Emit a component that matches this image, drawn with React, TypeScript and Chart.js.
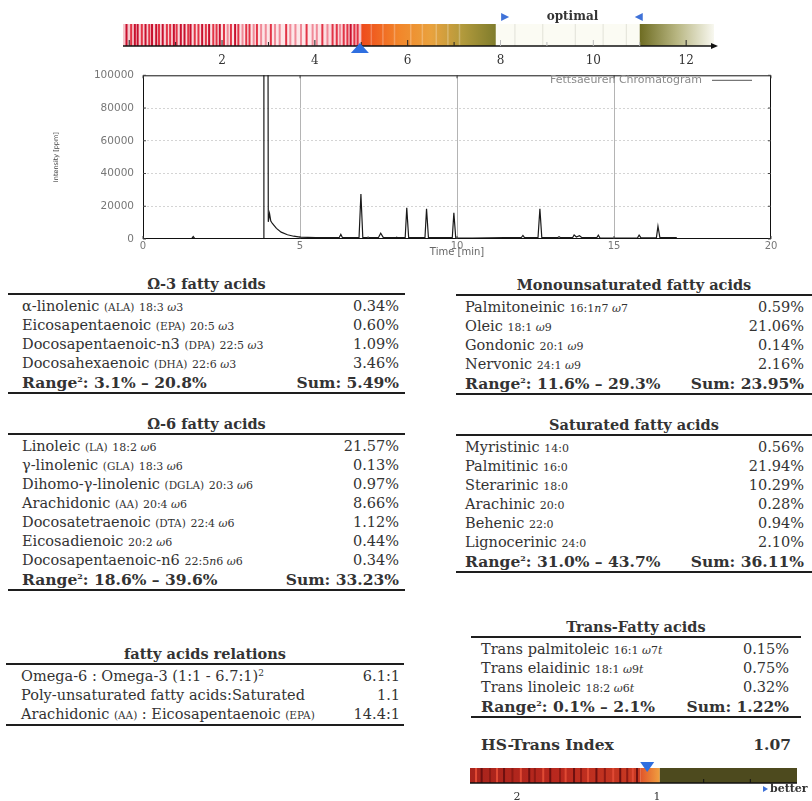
import React, { useEffect, useRef } from "react";
import { Chart, registerables } from "chart.js";
Chart.register(...registerables);

// ---------------- data ----------------
// Chromatogram trace (time in min, intensity in ppm)
const chromTime = [0, 1.55, 1.6, 1.65, 3.83, 3.85, 3.97, 3.99, 4.03, 4.07, 4.12, 4.25, 4.4, 4.6, 4.8, 5.0, 5.5, 6.0, 6.25, 6.3, 6.35, 6.88, 6.94, 7.0, 7.12, 7.17, 7.22, 7.5, 7.57, 7.65, 8.05, 8.08, 8.11, 8.35, 8.4, 8.46, 8.98, 9.03, 9.09, 9.85, 9.9, 9.96, 10.5, 11.5, 12.05, 12.1, 12.15, 12.58, 12.64, 12.7, 13.2, 13.25, 13.3, 13.68, 13.73, 13.8, 13.9, 13.98, 14.45, 14.5, 14.55, 15.0, 15.75, 15.8, 15.86, 16.35, 16.4, 16.46, 17.0];
const chromIntensity = [300, 300, 1500, 300, 300, 250000, 250000, 10500, 15500, 11000, 9500, 6500, 4200, 2600, 1700, 1200, 900, 800, 900, 2800, 900, 800, 27500, 900, 800, 1200, 800, 900, 3500, 1000, 800, 1100, 800, 800, 19000, 900, 800, 18500, 900, 800, 16000, 700, 600, 800, 900, 2200, 900, 900, 18500, 1000, 800, 1400, 800, 800, 2500, 1200, 2000, 800, 800, 2400, 700, 500, 700, 2400, 700, 700, 7800, 1000, 800];
const chromXMax = 20;
const chromXStep = 5;
const chromYMax = 100000;
const chromYStep = 20000;
const chromLegend = "Fettsaeuren Chromatogram";
const chromXTitle = "Time [min]";
const chromYTitle = "Intensity [ppm]";

// Top scale (omega index style bar)
const scaleMin = -0.134;
const scaleMax = 12.6;
const scaleTicks = [2, 4, 6, 8, 10, 12];
const scaleValue = 4.97;
const scaleRedEnd = 5.0;
const scaleOrangeEnd = 7.9;
const optimalFrom = 8.1;
const optimalTo = 11.0;
const scaleRedStripes = [-0.08, 0.02, 0.1, 0.16, 0.25, 0.33, 0.41, 0.47, 0.56, 0.62, 0.7, 0.79, 0.86, 0.94, 1.0, 1.09, 1.17, 1.25, 1.3, 1.39, 1.47, 1.55, 1.63, 1.7, 1.79, 1.86, 1.93, 2.02, 2.1, 2.17, 2.26, 2.33, 2.42, 2.5, 2.57, 2.66, 2.73, 2.82, 2.92, 3.03, 3.12, 3.22, 3.36, 3.45, 3.56, 3.68, 3.8, 3.93, 4.02, 4.14, 4.25, 4.36, 4.45, 4.52, 4.6, 4.68, 4.75, 4.83, 4.9];
const scaleRedShade = [0, 1, 0, 0, 1, 0, 1, 0, 0, 1, 0, 1, 1, 0, 1, 0, 0, 1, 0, 1, 1, 0, 1, 0, 1, 1, 0, 1, 2, 1, 0, 1, 2, 1, 1, 2, 1, 2, 2, 1, 2, 2, 1, 2, 2, 2, 1, 2, 2, 1, 2, 1, 1, 2, 1, 1, 0, 1, 1];
const scaleOptimalLines = [8.3, 8.9, 9.6, 10.2, 10.7];

// HS-Trans index bar
const hsMin = 0;
const hsMax = 2.336;
const hsTicks = [2, 1];
const hsMinorTicks = [2 / 3, 1 / 3];
const hsValue = 1.07;
const hsRedEnd = 1.12;
const hsOrangeEnd = 0.98;
const hsStripes = [2.3, 2.26, 2.2, 2.15, 2.1, 2.04, 1.98, 1.92, 1.88, 1.82, 1.77, 1.7, 1.66, 1.6, 1.55, 1.5, 1.44, 1.38, 1.32, 1.27, 1.22, 1.18, 1.15];
const hsIndexValue = "1.07";

// Tables
type Row = [string, string, string, string];
const omega3Rows: Row[] = [
  ["α-linolenic", "ALA", "18:3 ω3", "0.34%"],
  ["Eicosapentaenoic", "EPA", "20:5 ω3", "0.60%"],
  ["Docosapentaenoic-n3", "DPA", "22:5 ω3", "1.09%"],
  ["Docosahexaenoic", "DHA", "22:6 ω3", "3.46%"],
];
const omega3Range = ["3.1%", "20.8%"];
const omega3Sum = "5.49%";

const omega6Rows: Row[] = [
  ["Linoleic", "LA", "18:2 ω6", "21.57%"],
  ["γ-linolenic", "GLA", "18:3 ω6", "0.13%"],
  ["Dihomo-γ-linolenic", "DGLA", "20:3 ω6", "0.97%"],
  ["Arachidonic", "AA", "20:4 ω6", "8.66%"],
  ["Docosatetraenoic", "DTA", "22:4 ω6", "1.12%"],
  ["Eicosadienoic", "", "20:2 ω6", "0.44%"],
  ["Docosapentaenoic-n6", "", "22:5n6 ω6", "0.34%"],
];
const omega6Range = ["18.6%", "39.6%"];
const omega6Sum = "33.23%";

const monoRows: Row[] = [
  ["Palmitoneinic", "", "16:1n7 ω7", "0.59%"],
  ["Oleic", "", "18:1 ω9", "21.06%"],
  ["Gondonic", "", "20:1 ω9", "0.14%"],
  ["Nervonic", "", "24:1 ω9", "2.16%"],
];
const monoRange = ["11.6%", "29.3%"];
const monoSum = "23.95%";

const satRows: Row[] = [
  ["Myristinic", "", "14:0", "0.56%"],
  ["Palmitinic", "", "16:0", "21.94%"],
  ["Sterarinic", "", "18:0", "10.29%"],
  ["Arachinic", "", "20:0", "0.28%"],
  ["Behenic", "", "22:0", "0.94%"],
  ["Lignocerinic", "", "24:0", "2.10%"],
];
const satRange = ["31.0%", "43.7%"];
const satSum = "36.11%";

const transRows: Row[] = [
  ["Trans palmitoleic", "", "16:1 ω7t", "0.15%"],
  ["Trans elaidinic", "", "18:1 ω9t", "0.75%"],
  ["Trans linoleic", "", "18:2 ω6t", "0.32%"],
];
const transRange = ["0.1%", "2.1%"];
const transSum = "1.22%";

const relationValues = ["6.1:1", "1.1", "14.4:1"];

// ---------------- styling ----------------
const SERIF = "'DejaVu Serif', serif";
const TXT = "#333";
const ROW_H = 19;

// ---------------- helpers ----------------
function vGrad(ctx: CanvasRenderingContext2D, x0: number, x1: number, stops: [number, string][]) {
  const g = ctx.createLinearGradient(x0, 0, x1, 0);
  stops.forEach(([o, c]) => g.addColorStop(o, c));
  return g;
}

const scaleBarPlugin = {
  id: "scaleBar",
  afterDraw(chart: any) {
    const ctx: CanvasRenderingContext2D = chart.ctx;
    const xs = chart.scales.x;
    const { top, bottom, left, right } = chart.chartArea;
    const X = (v: number) => xs.getPixelForValue(v);
    ctx.save();
    const r0 = X(scaleMin), r1 = X(scaleRedEnd);
    ctx.fillStyle = vGrad(ctx, r0, r1, [[0, "#f6c6cc"], [0.45, "#fbe2e4"], [0.8, "#fde8ea"], [1, "#f6c0c6"]]);
    ctx.fillRect(r0, top, r1 - r0, bottom - top);
    const shades = ["#c8102e", "#e23446", "#f08a98"];
    scaleRedStripes.forEach((v, i) => {
      ctx.fillStyle = shades[scaleRedShade[i % scaleRedShade.length]];
      ctx.fillRect(X(v), top, 2, bottom - top);
    });
    const o1 = X(scaleOrangeEnd);
    ctx.fillStyle = vGrad(ctx, r1, o1, [[0, "#ee4a1c"], [0.28, "#f2862a"], [0.52, "#e9a23e"], [0.75, "#b29a3c"], [1, "#7f7c2c"]]);
    ctx.fillRect(r1, top, o1 - r1, bottom - top);
    ctx.globalAlpha = 0.25;
    ctx.fillStyle = "#ffffff";
    for (const v of [5.2, 5.45, 5.7, 6.05, 6.3, 6.6, 6.85, 7.1]) ctx.fillRect(X(v), top, 1.5, bottom - top);
    ctx.globalAlpha = 1;
    const p1 = X(optimalTo);
    ctx.fillStyle = "#fbfbf3";
    ctx.fillRect(o1, top, p1 - o1, bottom - top);
    ctx.fillStyle = "#e2e2d8";
    scaleOptimalLines.forEach((v) => ctx.fillRect(X(v), top, 1, bottom - top));
    ctx.fillStyle = vGrad(ctx, p1, right, [[0, "#6e6c22"], [0.5, "#b8b682"], [1, "#f8f8f0"]]);
    ctx.fillRect(p1, top, right - p1, bottom - top);
    ctx.strokeStyle = "#111";
    ctx.lineWidth = 1.5;
    ctx.beginPath();
    ctx.moveTo(left, bottom);
    ctx.lineTo(right + 1, bottom);
    ctx.stroke();
    ctx.fillStyle = "#111";
    ctx.beginPath();
    ctx.moveTo(right + 4, bottom);
    ctx.lineTo(right - 3, bottom - 3);
    ctx.lineTo(right - 3, bottom + 3);
    ctx.closePath();
    ctx.fill();
    ctx.lineWidth = 1;
    for (let v = 0; v <= 12; v++) {
      ctx.strokeStyle = v >= 8 && v <= 11 ? "#bbb" : "#222";
      const h = v % 2 === 0 ? 6 : 4;
      ctx.beginPath();
      ctx.moveTo(X(v), bottom);
      ctx.lineTo(X(v), bottom - h);
      ctx.stroke();
    }
    const mx = X(scaleValue);
    ctx.fillStyle = "#2f6fe0";
    ctx.beginPath();
    ctx.moveTo(mx, bottom - 3);
    ctx.lineTo(mx - 9, bottom + 7);
    ctx.lineTo(mx + 9, bottom + 7);
    ctx.closePath();
    ctx.fill();
    const ax = X(optimalFrom), bx = X(optimalTo);
    const ay = top - 7;
    ctx.fillStyle = "#3f72d8";
    ctx.beginPath();
    ctx.moveTo(ax - 4, ay - 4);
    ctx.lineTo(ax + 4, ay);
    ctx.lineTo(ax - 4, ay + 4);
    ctx.closePath();
    ctx.fill();
    ctx.beginPath();
    ctx.moveTo(bx + 3, ay - 4);
    ctx.lineTo(bx - 5, ay);
    ctx.lineTo(bx + 3, ay + 4);
    ctx.closePath();
    ctx.fill();
    ctx.fillStyle = TXT;
    ctx.font = "bold 12px 'DejaVu Serif'";
    ctx.textAlign = "center";
    ctx.textBaseline = "middle";
    ctx.fillText("optimal", (ax + bx) / 2, ay);
    ctx.restore();
  },
};

const hsBarPlugin = {
  id: "hsBar",
  afterDraw(chart: any) {
    const ctx: CanvasRenderingContext2D = chart.ctx;
    const xs = chart.scales.x;
    const { top, bottom, left, right } = chart.chartArea;
    const X = (v: number) => xs.getPixelForValue(v);
    ctx.save();
    const r0 = X(hsMax), r1 = X(hsRedEnd), o1 = X(hsOrangeEnd), e = X(hsMin);
    ctx.fillStyle = vGrad(ctx, r0, r1, [[0, "#a8241c"], [0.5, "#b8281e"], [1, "#c83a22"]]);
    ctx.fillRect(r0, top, r1 - r0, bottom - top);
    hsStripes.forEach((v, i) => {
      ctx.fillStyle = i % 3 === 0 ? "#e04a34" : i % 3 === 1 ? "#6e1010" : "#8e1a14";
      ctx.fillRect(X(v), top, 2, bottom - top);
    });
    ctx.fillStyle = vGrad(ctx, r1, o1, [[0, "#e0542a"], [1, "#f0a040"]]);
    ctx.fillRect(r1, top, o1 - r1, bottom - top);
    ctx.fillStyle = "#4d4a1e";
    ctx.fillRect(o1, top, e - o1, bottom - top);
    ctx.strokeStyle = "#111";
    ctx.lineWidth = 1.5;
    ctx.beginPath();
    ctx.moveTo(left, bottom);
    ctx.lineTo(right, bottom);
    ctx.stroke();
    ctx.lineWidth = 1;
    ctx.strokeStyle = "#111";
    hsMinorTicks.forEach((v) => {
      ctx.beginPath();
      ctx.moveTo(X(v), bottom);
      ctx.lineTo(X(v), bottom - 4);
      ctx.stroke();
    });
    const mx = X(hsValue);
    ctx.fillStyle = "#2f6fe0";
    ctx.beginPath();
    ctx.moveTo(mx, top + 4);
    ctx.lineTo(mx - 7, top - 6);
    ctx.lineTo(mx + 7, top - 6);
    ctx.closePath();
    ctx.fill();
    const by = bottom + 6;
    ctx.fillStyle = "#3f72d8";
    ctx.beginPath();
    ctx.moveTo(right - 34, by - 3);
    ctx.lineTo(right - 29, by);
    ctx.lineTo(right - 34, by + 3);
    ctx.closePath();
    ctx.fill();
    ctx.fillStyle = TXT;
    ctx.font = "bold 11px 'DejaVu Serif'";
    ctx.textAlign = "left";
    ctx.textBaseline = "middle";
    ctx.fillText("better", right - 27, by);
    ctx.restore();
  },
};

const chromPlugin = {
  id: "chromBox",
  afterDraw(chart: any) {
    const ctx: CanvasRenderingContext2D = chart.ctx;
    const { top, bottom, left, right } = chart.chartArea;
    ctx.save();
    ctx.strokeStyle = "#111";
    ctx.lineWidth = 1;
    ctx.strokeRect(left + 0.5, top + 0.5, right - left - 1, bottom - top - 1);
    const xs = chart.scales.x, ys = chart.scales.y;
    ctx.strokeStyle = "#444";
    for (let v = 0; v <= chromXMax; v += chromXStep) {
      const x = xs.getPixelForValue(v);
      ctx.beginPath();
      ctx.moveTo(x, bottom);
      ctx.lineTo(x, bottom - 3);
      ctx.moveTo(x, top);
      ctx.lineTo(x, top + 3);
      ctx.stroke();
    }
    for (let v = 0; v <= chromYMax; v += chromYStep) {
      const y = ys.getPixelForValue(v);
      ctx.beginPath();
      ctx.moveTo(left, y);
      ctx.lineTo(left + 3, y);
      ctx.moveTo(right, y);
      ctx.lineTo(right - 3, y);
      ctx.stroke();
    }
    ctx.fillStyle = "#8a8a8a";
    ctx.font = "11px 'DejaVu Sans'";
    ctx.textAlign = "right";
    ctx.textBaseline = "middle";
    ctx.fillText(chromLegend, right - 69, top + 5);
    ctx.strokeStyle = "#555";
    ctx.beginPath();
    ctx.moveTo(right - 59, top + 5);
    ctx.lineTo(right - 19, top + 5);
    ctx.stroke();
    ctx.restore();
  },
};

// ---------------- charts ----------------
function ScaleBar() {
  const ref = useRef<HTMLCanvasElement>(null);
  useEffect(() => {
    const chart = new Chart(ref.current!, {
      type: "scatter",
      data: { datasets: [{ data: [] }] },
      options: {
        animation: false,
        responsive: false,
        layout: { padding: { left: 13, right: 16, top: 24, bottom: 0 } },
        plugins: { legend: { display: false }, tooltip: { enabled: false } },
        scales: {
          x: {
            type: "linear",
            min: scaleMin,
            max: scaleMax,
            afterBuildTicks: (s: any) => {
              s.ticks = scaleTicks.map((v) => ({ value: v }));
            },
            ticks: { font: { family: "DejaVu Serif", size: 12 }, color: TXT, padding: 8, maxRotation: 0, autoSkip: false },
            grid: { display: false, drawTicks: false },
            border: { display: false },
            afterFit: (s: any) => {
              s.height = 26;
            },
          },
          y: { display: false, min: 0, max: 1 },
        },
      } as any,
      plugins: [scaleBarPlugin],
    });
    return () => chart.destroy();
  }, []);
  return <canvas ref={ref} width={620} height={72} style={{ position: "absolute", left: 110, top: 0, width: 620, height: 72 }} />;
}

function Chromatogram() {
  const ref = useRef<HTMLCanvasElement>(null);
  useEffect(() => {
    const data = chromTime.map((t, i) => ({ x: t, y: chromIntensity[i] }));
    const chart = new Chart(ref.current!, {
      type: "scatter",
      data: {
        datasets: [
          { data, showLine: true, borderColor: "#1a1a1a", borderWidth: 1.2, pointRadius: 0, tension: 0 },
        ],
      },
      options: {
        animation: false,
        responsive: false,
        layout: { padding: { top: 14, right: 9, left: 0, bottom: 0 } },
        plugins: { legend: { display: false }, tooltip: { enabled: false } },
        scales: {
          x: {
            type: "linear",
            min: 0,
            max: chromXMax,
            ticks: { stepSize: chromXStep, font: { family: "DejaVu Sans", size: 10 }, color: "#777", padding: 1, maxRotation: 0 },
            grid: {
              drawTicks: false,
              color: (c: any) => (c.tick && c.tick.value > 0 && c.tick.value < chromXMax ? "#b4b4b4" : "rgba(0,0,0,0)"),
            },
            border: { display: false },
            title: { display: true, text: chromXTitle, font: { family: "DejaVu Sans", size: 10 }, color: "#666", padding: { top: 0, bottom: 7 } },
            afterFit: (s: any) => {
              s.height = 26;
            },
          },
          y: {
            min: 0,
            max: chromYMax,
            ticks: { stepSize: chromYStep, callback: (v: any) => String(v), font: { family: "DejaVu Sans", size: 10.5 }, color: "#777", padding: 9 },
            grid: {
              drawTicks: false,
              color: (c: any) => (c.tick && c.tick.value > 0 && c.tick.value < chromYMax ? "#d4d4d4" : "rgba(0,0,0,0)"),
            },
            border: { display: false, dash: [2, 2] },
            title: { display: true, text: chromYTitle, font: { family: "DejaVu Sans", size: 6.5 }, color: "#444", padding: { top: 12, bottom: 0 } },
            afterFit: (s: any) => {
              s.width = 103;
            },
          },
        },
      } as any,
      plugins: [chromPlugin],
    });
    return () => chart.destroy();
  }, []);
  return <canvas ref={ref} width={740} height={205} style={{ position: "absolute", left: 40, top: 60, width: 740, height: 205 }} />;
}

function HsBar() {
  const ref = useRef<HTMLCanvasElement>(null);
  useEffect(() => {
    const chart = new Chart(ref.current!, {
      type: "scatter",
      data: { datasets: [{ data: [] }] },
      options: {
        animation: false,
        responsive: false,
        layout: { padding: { left: 10, right: 15, top: 18, bottom: 0 } },
        plugins: { legend: { display: false }, tooltip: { enabled: false } },
        scales: {
          x: {
            type: "linear",
            reverse: true,
            min: hsMin,
            max: hsMax,
            afterBuildTicks: (s: any) => {
              s.ticks = hsTicks.map((v) => ({ value: v }));
            },
            ticks: { font: { family: "DejaVu Serif", size: 11 }, color: TXT, padding: 8, maxRotation: 0, autoSkip: false },
            grid: { display: false, drawTicks: false },
            border: { display: false },
            afterFit: (s: any) => {
              s.height = 18;
            },
          },
          y: { display: false, min: 0, max: 1 },
        },
      } as any,
      plugins: [hsBarPlugin],
    });
    return () => chart.destroy();
  }, []);
  return <canvas ref={ref} width={352} height={51} style={{ position: "absolute", left: 460, top: 750, width: 352, height: 51 }} />;
}

// ---------------- tables ----------------
function Formula({ s }: { s: string }) {
  return (
    <span style={{ fontSize: 11 }}>
      {Array.from(s).map((c, i) => (/[a-zω]/.test(c) ? <i key={i}>{c}</i> : <React.Fragment key={i}>{c}</React.Fragment>))}
    </span>
  );
}

function Abbr({ s }: { s: string }) {
  return <span style={{ fontSize: 10.5 }}>({s})</span>;
}

function Rule({ top, left, width, h }: { top: number; left: number; width: number; h: number }) {
  return <div style={{ position: "absolute", top, left, width, height: h, background: "#1e1e1e" }} />;
}

const SUP = { fontSize: 8, verticalAlign: "top", position: "relative", top: -3 } as React.CSSProperties;

function FatTable(props: {
  left: number;
  width: number;
  rule: number;
  title: string;
  rows: Row[];
  range: string[];
  sum: string;
  padL: number;
  padR: number;
}) {
  const { left, width, rule, title, rows, range, sum, padL, padR } = props;
  const all = rows.length + 1;
  return (
    <>
      <div style={{ position: "absolute", left, width, top: rule - 20, height: 20, lineHeight: "20px", textAlign: "center", fontWeight: "bold", fontSize: 14.5, color: TXT }}>
        {title}
      </div>
      <Rule top={rule - 1} left={left} width={width} h={1.6} />
      {rows.map((r, i) => (
        <div key={i} style={{ position: "absolute", left: left + padL, width: width - padL - padR, top: rule + 3 + i * ROW_H, height: ROW_H, lineHeight: ROW_H + "px", display: "flex", justifyContent: "space-between", color: TXT, fontSize: 14.5, whiteSpace: "nowrap" }}>
          <span>
            {r[0]}
            {r[1] ? <> <Abbr s={r[1]} /></> : null} <Formula s={r[2]} />
          </span>
          <span>{r[3]}</span>
        </div>
      ))}
      <div style={{ position: "absolute", left: left + padL, width: width - padL - padR, top: rule + 3 + rows.length * ROW_H, height: ROW_H, lineHeight: ROW_H + "px", display: "flex", justifyContent: "space-between", color: TXT, fontSize: 15.5, fontWeight: "bold", whiteSpace: "nowrap" }}>
        <span>
          Range<sup style={SUP}>2</sup>: {range[0]} – {range[1]}
        </span>
        <span>Sum: {sum}</span>
      </div>
      <Rule top={rule + 3 + all * ROW_H} left={left} width={width} h={2} />
    </>
  );
}

function RelationsTable() {
  const left = 6, width = 398, rule = 664, padL = 15, padR = 4;
  const labels: React.ReactNode[] = [
    <>
      Omega-6 : Omega-3 (1:1 - 6.7:1)<sup style={{ ...SUP, fontSize: 9 }}>2</sup>
    </>,
    <>Poly-unsaturated fatty acids:Saturated</>,
    <>
      Arachidonic <Abbr s="AA" /> : Eicosapentaenoic <Abbr s="EPA" />
    </>,
  ];
  return (
    <>
      <div style={{ position: "absolute", left, width, top: rule - 20, height: 20, lineHeight: "20px", textAlign: "center", fontWeight: "bold", fontSize: 14.5, color: TXT }}>
        fatty acids relations
      </div>
      <Rule top={rule - 1} left={left} width={width} h={1.6} />
      {labels.map((l, i) => (
        <div key={i} style={{ position: "absolute", left: left + padL, width: width - padL - padR, top: rule + 3 + i * ROW_H, height: ROW_H, lineHeight: ROW_H + "px", display: "flex", justifyContent: "space-between", color: TXT, fontSize: 14.5, whiteSpace: "nowrap" }}>
          <span>{l}</span>
          <span>{relationValues[i]}</span>
        </div>
      ))}
      <Rule top={rule + 3 + labels.length * ROW_H} left={left} width={width} h={2} />
    </>
  );
}

export default function App() {
  return (
    <div style={{ position: "absolute", left: 0, top: 0, width: 812, height: 801, overflow: "hidden", background: "#fff", fontFamily: SERIF }}>
      <ScaleBar />
      <Chromatogram />
      <FatTable left={8} width={397} rule={294} title="Ω-3 fatty acids" rows={omega3Rows} range={omega3Range} sum={omega3Sum} padL={14} padR={6} />
      <FatTable left={8} width={397} rule={434} title="Ω-6 fatty acids" rows={omega6Rows} range={omega6Range} sum={omega6Sum} padL={14} padR={6} />
      <RelationsTable />
      <FatTable left={456} width={356} rule={295} title="Monounsaturated fatty acids" rows={monoRows} range={monoRange} sum={monoSum} padL={9} padR={8} />
      <FatTable left={456} width={356} rule={435} title="Saturated fatty acids" rows={satRows} range={satRange} sum={satSum} padL={9} padR={8} />
      <FatTable left={471} width={330} rule={637} title="Trans-Fatty acids" rows={transRows} range={transRange} sum={transSum} padL={10} padR={12} />
      <div style={{ position: "absolute", left: 481, top: 734, height: 22, lineHeight: "22px", width: 310, display: "flex", justifyContent: "space-between", fontWeight: "bold", fontSize: 15.5, color: TXT }}>
        <span>HS-Trans Index</span>
        <span>{hsIndexValue}</span>
      </div>
      <HsBar />
    </div>
  );
}
